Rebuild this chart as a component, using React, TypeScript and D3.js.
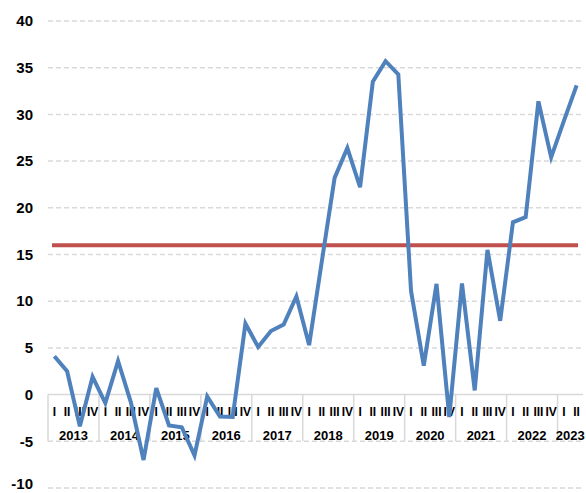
import { useRef, useEffect } from 'react';
import * as d3 from 'd3';

const years = ['2013', '2014', '2015', '2016', '2017', '2018', '2019', '2020', '2021', '2022', '2023'];
const quarterNames = ['I', 'II', 'III', 'IV'];
// quarterly values, 2013 Q1 .. 2023 Q2
const values = [
  4.1, 2.5, -3.4, 1.9,
  -0.9, 3.6, -0.8, -7.0,
  0.7, -3.3, -3.5, -6.5,
  -0.2, -2.35, -2.4, 7.6,
  5.1, 6.8, 7.5, 10.5,
  5.3, 14.3, 23.2, 26.4,
  22.2, 33.5, 35.7, 34.3,
  11.1, 3.1, 11.85, -2.4,
  11.9, 0.45, 15.5, 7.9,
  18.45, 19.0, 31.4, 25.4,
  29.3, 33.1,
];
const target = 16;
const yTicks = [-10, -5, 0, 5, 10, 15, 20, 25, 30, 35, 40];

export default function App() {
  const svgRef = useRef(null);
  const width = 586, height = 493;

  useEffect(() => {
    const svg = d3.select(svgRef.current);
    svg.selectAll('*').remove();

    const keys = values.map((v, i) => years[Math.floor(i / 4)] + '-' + quarterNames[i % 4]);
    const x = d3.scaleBand().domain(keys).range([48, 583]);
    const y = d3.scaleLinear().domain([-10, 40]).range([488, 21]);
    const font = '"Liberation Sans", Arial, sans-serif';

    // gridlines
    svg.append('g').selectAll('line')
      .data(yTicks.filter(t => t !== 0))
      .join('line')
      .attr('x1', 48).attr('x2', 583)
      .attr('y1', d => y(d)).attr('y2', d => y(d))
      .attr('stroke', '#d9d9d9')
      .attr('stroke-width', 1.5)
      .attr('stroke-dasharray', '5,3');

    // y labels (bottom one nudged so it stays inside the frame)
    svg.append('g').selectAll('text')
      .data(yTicks)
      .join('text')
      .attr('x', 33)
      .attr('y', d => Math.min(y(d), 484))
      .attr('dy', '0.35em')
      .attr('text-anchor', 'end')
      .attr('font-family', font)
      .attr('font-weight', 'bold')
      .attr('font-size', 15)
      .attr('fill', '#000')
      .text(d => d);

    // category axis at zero
    const y0 = y(0);
    svg.append('line')
      .attr('x1', 48).attr('x2', 583)
      .attr('y1', y0).attr('y2', y0)
      .attr('stroke', '#d9d9d9').attr('stroke-width', 1.5);

    const yearStarts = years.map((yr, i) => x(keys[i * 4]));
    svg.append('g').selectAll('line')
      .data(yearStarts)
      .join('line')
      .attr('x1', d => d).attr('x2', d => d)
      .attr('y1', y0).attr('y2', y(-5))
      .attr('stroke', '#d9d9d9').attr('stroke-width', 1.5);

    svg.append('g').selectAll('text')
      .data(keys)
      .join('text')
      .attr('x', d => x(d) + x.bandwidth() / 2)
      .attr('y', 416)
      .attr('text-anchor', 'middle')
      .attr('font-family', font)
      .attr('font-weight', 'bold')
      .attr('font-size', 12)
      .text(d => d.split('-')[1]);

    svg.append('g').selectAll('text')
      .data(years)
      .join('text')
      .attr('x', (d, i) => {
        const qs = keys.filter(k => k.startsWith(d));
        return (x(qs[0]) + x(qs[qs.length - 1]) + x.bandwidth()) / 2;
      })
      .attr('y', 440)
      .attr('text-anchor', 'middle')
      .attr('font-family', font)
      .attr('font-weight', 'bold')
      .attr('font-size', 13)
      .text(d => d);

    // target line
    svg.append('line')
      .attr('x1', 52).attr('x2', 578)
      .attr('y1', y(target)).attr('y2', y(target))
      .attr('stroke', '#c0504d')
      .attr('stroke-width', 4);

    // series
    const line = d3.line()
      .x((d, i) => x(keys[i]) + x.bandwidth() / 2)
      .y(d => y(d));
    svg.append('path')
      .datum(values)
      .attr('d', line)
      .attr('fill', 'none')
      .attr('stroke', '#4f81bd')
      .attr('stroke-width', 4)
      .attr('stroke-linejoin', 'miter');
  }, []);

  return (
    <div style={{ position: 'absolute', left: 0, top: 0 }}>
      <svg ref={svgRef} width={width} height={height} style={{ display: 'block', background: '#fff' }} />
    </div>
  );
}
